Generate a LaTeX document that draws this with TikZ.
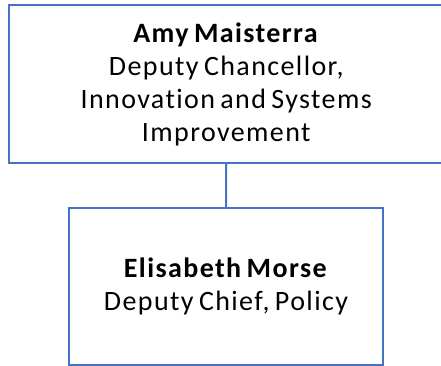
\documentclass[tikz,border=0pt]{standalone}
\usepackage{fontspec}
\setmainfont{Carlito}[LetterSpace=5,WordSpace=0.7,Ligatures=CommonOff]
\definecolor{boxblue}{RGB}{68,114,196}
\begin{document}
\begin{tikzpicture}[x=1pt,y=-1pt,
  orgbox/.style={draw=boxblue,line width=2pt,fill=white,align=center,inner sep=0pt,
    font=\fontsize{28}{32.8}\selectfont},
  link/.style={draw=boxblue,line width=2pt}]
\useasboundingbox (0,0) rectangle (441,366);
\node[orgbox,minimum width=435.5pt,minimum height=157.5pt] (amy) at (226.25,84.25)
  {\textbf{Amy Maisterra}\\Deputy Chancellor,\\Innovation and Systems\\Improvement};
\node[orgbox,minimum width=314pt,minimum height=157pt] (eli) at (226,286.5)
  {\textbf{Elisabeth Morse}\\Deputy Chief, Policy};
\draw[link] (amy.south) -- (eli.north);
\end{tikzpicture}
\end{document}
